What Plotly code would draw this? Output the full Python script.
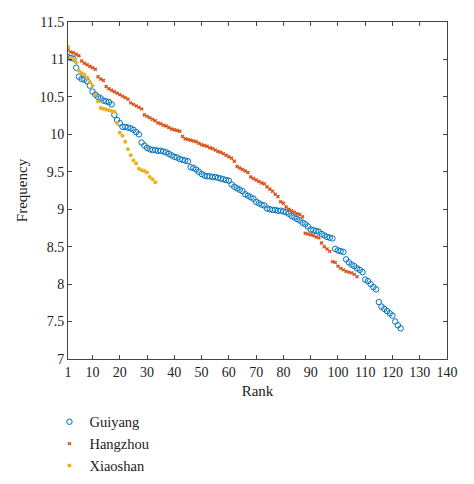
import plotly.graph_objs as go

# rank-size data
guiyang = [11.03, 11.02, 11.01, 10.89, 10.77, 10.74, 10.73, 10.71, 10.65, 10.57,
           10.53, 10.50, 10.48, 10.45, 10.44, 10.43, 10.40, 10.26, 10.19, 10.15,
           10.10, 10.10, 10.09, 10.08, 10.06, 10.03, 10.00, 9.89, 9.85, 9.82,
           9.80, 9.79, 9.79, 9.78, 9.78, 9.77, 9.76, 9.74, 9.72, 9.70,
           9.69, 9.67, 9.66, 9.65, 9.64, 9.56, 9.55, 9.53, 9.50, 9.47,
           9.45, 9.44, 9.44, 9.43, 9.43, 9.42, 9.41, 9.40, 9.39, 9.38,
           9.33, 9.30, 9.28, 9.26, 9.24, 9.20, 9.18, 9.16, 9.14, 9.10,
           9.08, 9.06, 9.05, 9.01, 9.00, 8.99, 8.99, 8.98, 8.98, 8.97,
           8.96, 8.94, 8.91, 8.89, 8.87, 8.85, 8.82, 8.80, 8.77, 8.73,
           8.72, 8.71, 8.70, 8.67, 8.65, 8.63, 8.62, 8.61, 8.47, 8.45,
           8.44, 8.43, 8.33, 8.29, 8.26, 8.24, 8.21, 8.19, 8.16, 8.06,
           8.04, 8.00, 7.96, 7.93, 7.76, 7.70, 7.67, 7.64, 7.61, 7.58,
           7.50, 7.45, 7.41]

hangzhou = [11.13, 11.10, 11.09, 11.07, 11.05, 10.98, 10.95, 10.93, 10.91, 10.89,
            10.87, 10.77, 10.74, 10.72, 10.64, 10.61, 10.59, 10.57, 10.55, 10.53,
            10.51, 10.49, 10.47, 10.42, 10.40, 10.38, 10.36, 10.34, 10.26, 10.24,
            10.22, 10.20, 10.18, 10.15, 10.14, 10.12, 10.11, 10.09, 10.07, 10.06,
            10.05, 10.04, 9.97, 9.94, 9.93, 9.92, 9.91, 9.90, 9.88, 9.86,
            9.85, 9.84, 9.82, 9.81, 9.79, 9.77, 9.76, 9.74, 9.72, 9.70,
            9.68, 9.64, 9.57, 9.55, 9.53, 9.51, 9.49, 9.43, 9.41, 9.39,
            9.37, 9.35, 9.34, 9.30, 9.27, 9.24, 9.20, 9.17, 9.10, 9.08,
            9.03, 9.00, 8.98, 8.96, 8.94, 8.93, 8.90, 8.68, 8.67, 8.66,
            8.65, 8.63, 8.62, 8.55, 8.50, 8.47, 8.44, 8.30, 8.29, 8.24,
            8.21, 8.19, 8.17, 8.16, 8.15, 8.13, 8.10]

xiaoshan = [11.17, 11.02, 11.00, 10.96, 10.85, 10.82, 10.80, 10.76, 10.70, 10.65,
            10.53, 10.44, 10.35, 10.34, 10.33, 10.32, 10.31, 10.30, 10.15, 10.02,
            9.98, 9.90, 9.80, 9.72, 9.65, 9.61, 9.54, 9.52, 9.51, 9.49,
            9.43, 9.40, 9.36]

x_ticks = [1, 10, 20, 30, 40, 50, 60, 70, 80, 90, 100, 110, 120, 130, 140]

font_family = "Liberation Serif"

data = []
data.append(go.Scatter(x=list(range(1, len(guiyang) + 1)), y=guiyang, name='Guiyang',
                       mode='markers',
                       marker=dict(symbol='circle-open', size=5.5, color='#0072BD',
                                   line=dict(width=1, color='#0072BD'))))
data.append(go.Scatter(x=list(range(1, len(hangzhou) + 1)), y=hangzhou, name='Hangzhou',
                       mode='markers',
                       marker=dict(symbol='x', size=3.5, color='#D95319', line=dict(width=0))))
data.append(go.Scatter(x=list(range(1, len(xiaoshan) + 1)), y=xiaoshan, name='Xiaoshan',
                       mode='markers',
                       marker=dict(symbol='circle', size=4, color='#EDB120', line=dict(width=0))))

axis_style = dict(showline=True, linecolor='#444444', linewidth=1, mirror='ticks',
                  ticks='inside', ticklen=4, tickcolor='#444444', showgrid=False,
                  zeroline=False, automargin=False,
                  tickfont=dict(size=14, color='#222222'))

# page body adds an 8px offset, margins are trimmed to compensate
fig = go.Figure(data=data)
fig.update_layout(
    width=474, height=484,
    margin=dict(l=60, r=35, t=14, b=133, autoexpand=False),
    paper_bgcolor='white', plot_bgcolor='white',
    font=dict(family=font_family, size=14, color='#222222'),
    showlegend=True,
    legend=dict(x=-0.049, y=-0.139, xanchor='left', yanchor='top',
                font=dict(size=14.5), tracegroupgap=0, itemsizing='trace',
                bgcolor='rgba(0,0,0,0)'),
)
fig.update_xaxes(range=[1, 140], tickvals=x_ticks, tickangle=0,
                 title=dict(text='Rank', standoff=6, font=dict(size=15)), **axis_style)
fig.update_yaxes(range=[7, 11.5], dtick=0.5, tick0=7,
                 title=dict(text='Frequency', standoff=8, font=dict(size=15)), **axis_style)

fig.write_html("out.html")
